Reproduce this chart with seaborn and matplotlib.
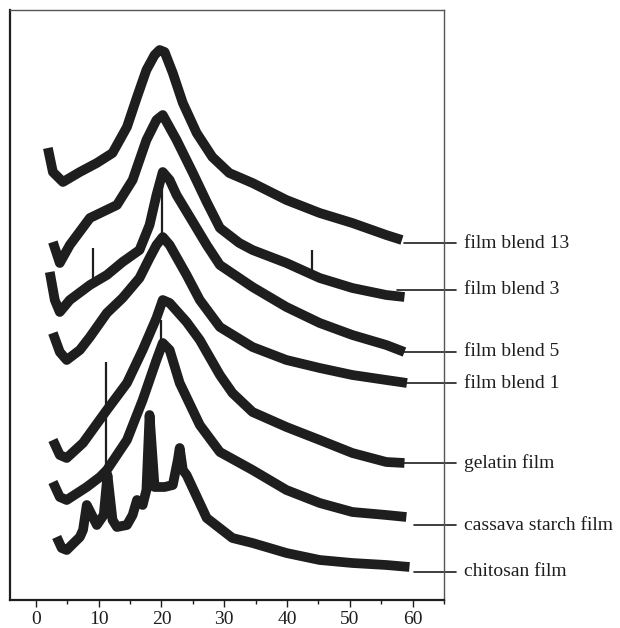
import numpy as np
import pandas as pd
import matplotlib
matplotlib.use('Agg')
import matplotlib.pyplot as plt
import seaborn as sns

# XRD patterns, stacked (2theta in degrees, intensity in arbitrary stacked units)
blend13_2theta = [1.9, 2.7, 4.3, 7.0, 9.7, 12.2, 14.5, 16.1, 17.6, 18.9, 19.7, 20.5, 21.8, 23.4, 25.6, 28.1, 30.8, 34.5, 39.9, 45.2, 50.4, 55.8, 58.3]
blend13_int = [452, 428, 418, 428, 437, 447, 473, 503, 530, 545, 550, 548, 527, 497, 467, 443, 427, 417, 400, 387, 377, 365, 360]

blend3_2theta = [2.7, 3.8, 5.4, 8.6, 12.9, 15.4, 17.6, 19.2, 20.2, 22.4, 25.0, 27.2, 29.3, 32.4, 34.5, 39.9, 45.2, 50.4, 55.8, 58.7]
blend3_int = [358, 337, 355, 382, 395, 420, 460, 480, 485, 460, 427, 398, 372, 357, 350, 337, 322, 312, 305, 303]

blend5_2theta = [2.2, 3.0, 3.8, 5.4, 8.6, 11.3, 13.8, 16.5, 18.1, 19.2, 20.2, 21.3, 22.4, 25.0, 27.2, 29.3, 34.5, 39.9, 45.2, 50.4, 55.8, 58.7]
blend5_int = [328, 300, 288, 300, 315, 325, 338, 350, 375, 405, 428, 420, 405, 378, 355, 335, 313, 293, 277, 265, 255, 248]

blend1_2theta = [2.7, 3.8, 4.9, 7.0, 8.6, 11.3, 13.8, 16.5, 18.1, 19.2, 20.2, 21.3, 24.0, 26.1, 29.3, 34.5, 39.9, 45.2, 50.4, 55.8, 59.1]
blend1_int = [267, 248, 240, 250, 263, 287, 302, 322, 342, 355, 363, 355, 325, 300, 273, 253, 240, 232, 225, 220, 217]

gelatin_2theta = [2.7, 3.8, 4.9, 7.5, 11.3, 14.5, 17.0, 19.2, 20.2, 21.3, 24.0, 26.1, 29.3, 31.3, 34.5, 39.9, 45.2, 50.4, 55.8, 58.7]
gelatin_int = [160, 145, 142, 157, 190, 217, 250, 282, 300, 297, 278, 260, 225, 207, 188, 173, 160, 147, 138, 137]

cassava_2theta = [2.7, 3.8, 4.9, 8.1, 10.2, 11.3, 14.5, 17.0, 19.2, 20.2, 21.3, 22.9, 26.1, 29.3, 34.5, 39.9, 45.2, 50.4, 55.8, 59.0]
cassava_int = [118, 103, 100, 113, 123, 130, 160, 200, 240, 257, 250, 217, 175, 148, 130, 110, 97, 88, 85, 83]

chitosan_2theta = [3.3, 4.1, 4.9, 7.0, 7.5, 8.1, 8.9, 9.7, 10.8, 11.4, 12.2, 12.9, 14.5, 15.4, 16.1, 17.0, 17.6, 18.1, 18.9, 20.5, 21.8, 22.6, 22.9, 23.4, 24.0, 27.2, 31.3, 34.5, 39.9, 45.2, 50.4, 55.8, 59.5]
chitosan_int = [63, 52, 50, 63, 70, 95, 85, 75, 85, 125, 80, 73, 75, 85, 100, 95, 110, 185, 113, 113, 115, 140, 152, 130, 125, 82, 62, 57, 47, 40, 37, 35, 33]

# sharp single-channel spikes
spike_sample = ['film blend 3', 'film blend 5', 'film blend 1', 'cassava starch film', 'cassava starch film']
spike_2theta = [43.9, 9.1, 20.1, 11.2, 19.9]
spike_int = [350, 352, 413, 238, 280]

labels = ['film blend 13', 'film blend 3', 'film blend 5', 'film blend 1',
          'gelatin film', 'cassava starch film', 'chitosan film']
series = [(blend13_2theta, blend13_int), (blend3_2theta, blend3_int),
          (blend5_2theta, blend5_int), (blend1_2theta, blend1_int),
          (gelatin_2theta, gelatin_int), (cassava_2theta, cassava_int),
          (chitosan_2theta, chitosan_int)]

# label layout (connector start, label height)
label_x0 = [58.6, 57.5, 58.7, 59.1, 58.7, 60.3, 60.3]
label_y = [357, 310, 248, 217, 137, 75, 28]

rows = []
for name, (tt, it) in zip(labels, series):
    for t, i in zip(tt, it):
        rows.append((name, t, i))
df = pd.DataFrame(rows, columns=['sample', 'two_theta', 'intensity'])

sns.set_theme(style='white')
plt.rcParams['font.family'] = ['Liberation Serif', 'DejaVu Serif']

ink = '#1e1e1e'
fig = plt.figure(figsize=(6.2, 6.28), dpi=100)
ax = fig.add_axes([10 / 620, 1 - 600 / 628, 434 / 620, 590 / 628])

sns.lineplot(data=df, x='two_theta', y='intensity', units='sample', estimator=None,
             sort=False, color=ink, lw=7, ax=ax, legend=False)
for ln in ax.lines:
    ln.set_solid_joinstyle('round')
    ln.set_solid_capstyle('butt')

for name, t, top in zip(spike_sample, spike_2theta, spike_int):
    tt, it = series[labels.index(name)]
    base = np.interp(t, tt, it)
    ax.vlines(t, base, top, color=ink, lw=1.6)

for name, x0, y in zip(labels, label_x0, label_y):
    ax.plot([x0, 66.9], [y, y], color=ink, lw=1.2, clip_on=False)
    ax.text(68.2, y, name, fontsize=14, va='center', ha='left', color=ink, clip_on=False)

ax.set_xlim(-4.13, 64.9)
ax.set_ylim(0, 590)
ax.set_xticks(range(0, 61, 10))
ax.set_xticks(range(5, 66, 10), minor=True)
ax.set_yticks([])
ax.set_xlabel('')
ax.set_ylabel('')
ax.tick_params(axis='x', which='major', direction='out', length=5, width=1, color=ink,
               labelsize=14, pad=3, bottom=True, labelcolor=ink)
ax.tick_params(axis='x', which='minor', direction='out', length=3, width=1, color=ink, bottom=True)
for side in ['left', 'bottom']:
    ax.spines[side].set_color(ink)
    ax.spines[side].set_linewidth(1.6)
for side in ['top', 'right']:
    ax.spines[side].set_color('#555555')
    ax.spines[side].set_linewidth(1.0)

fig.savefig('out.png', dpi=100)
